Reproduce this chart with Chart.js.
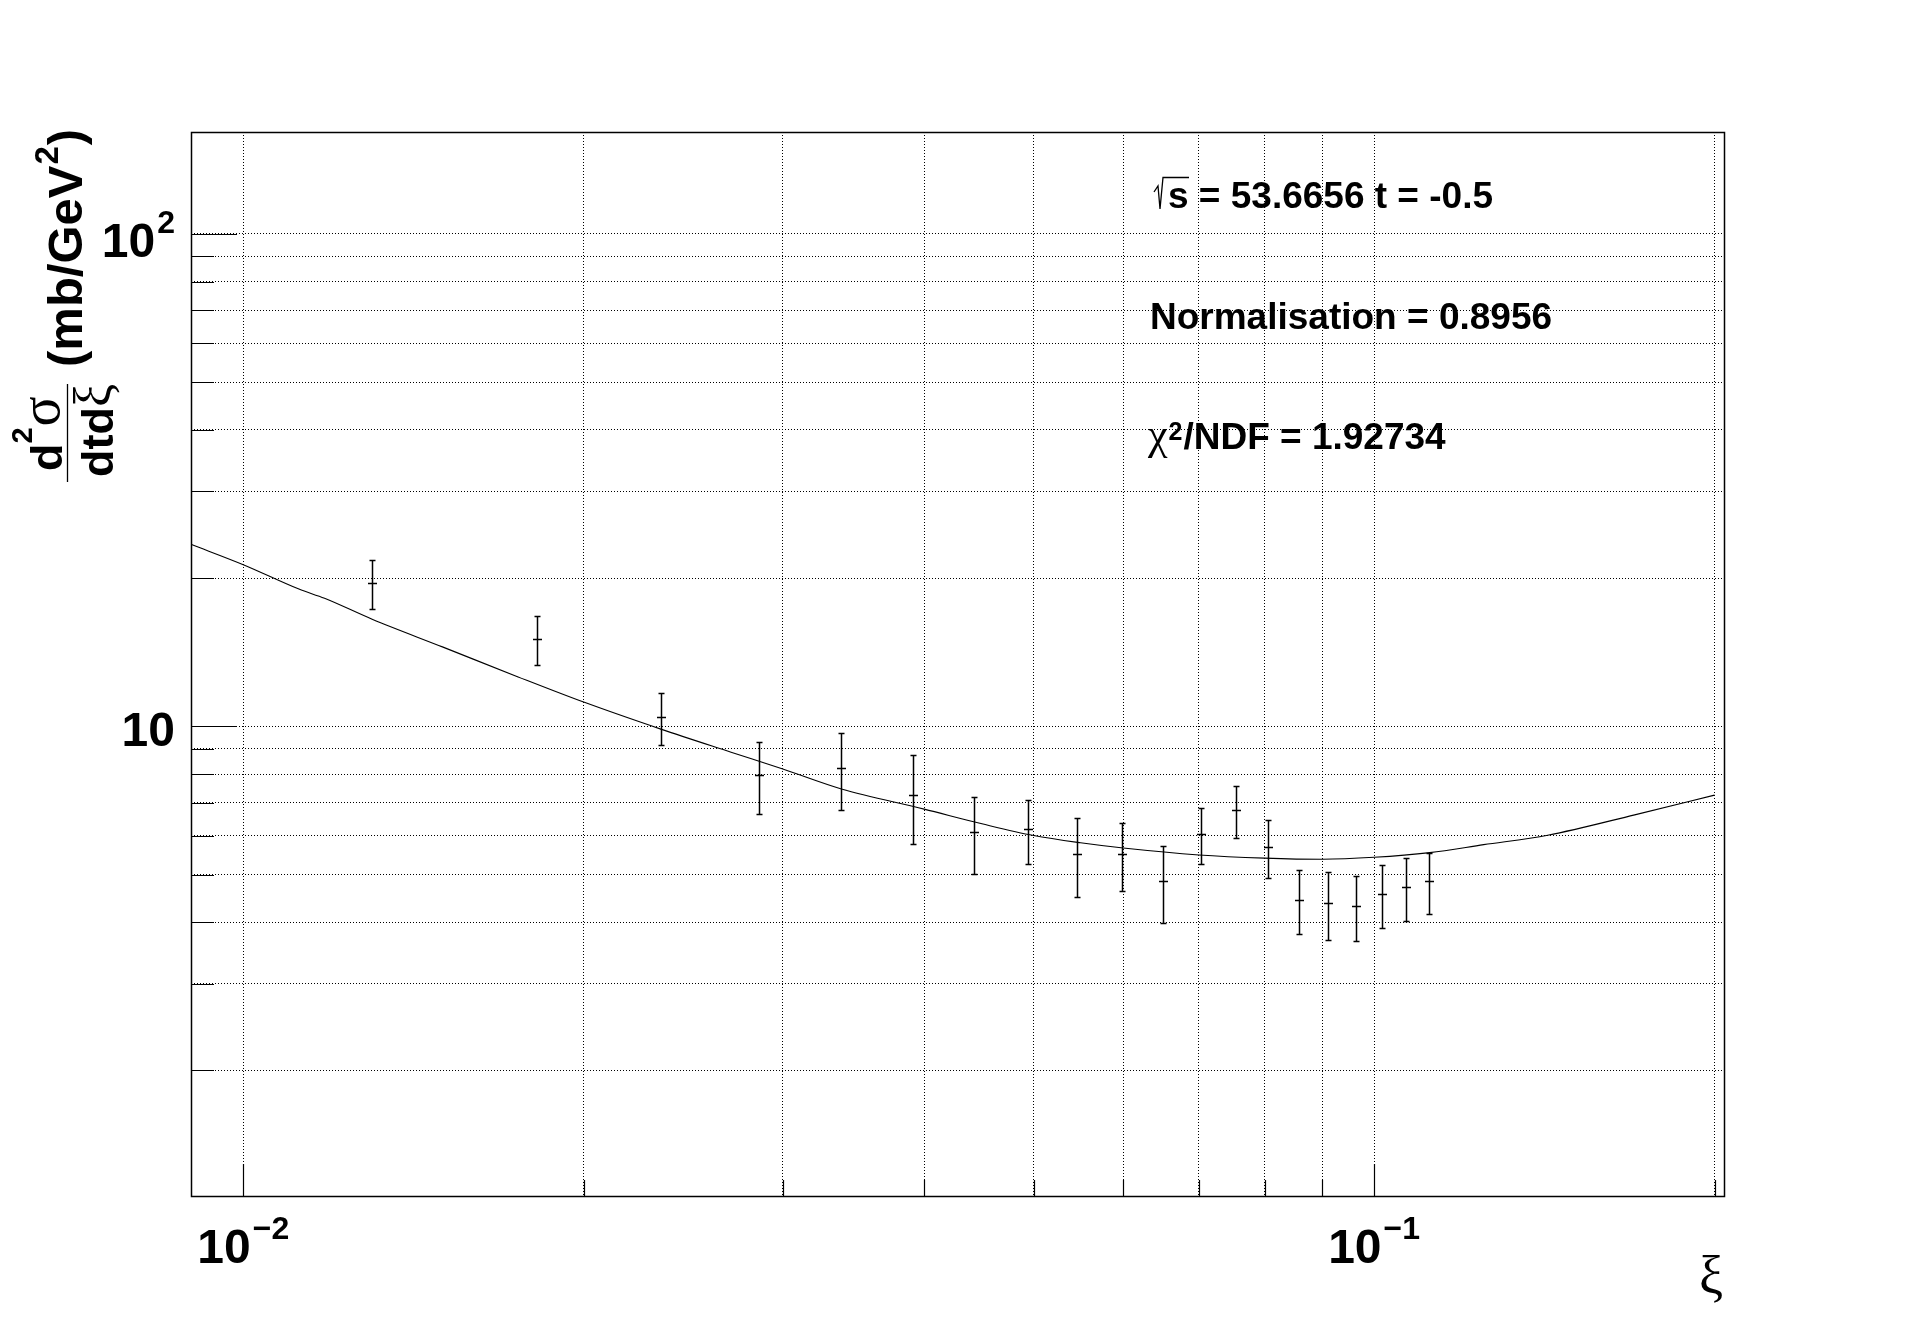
<!DOCTYPE html>
<html>
<head>
<meta charset="utf-8">
<script src="https://cdn.jsdelivr.net/npm/chart.js@4"></script>
<style>
  html, body { margin: 0; padding: 0; background: #fff; }
  #xsec { display: block; }
</style>
</head>
<body>
<canvas id="xsec" width="1916" height="1329"></canvas>
<script>
// measured points (xi, d2sigma/dtdxi, error)
const xiValues = [0.0130, 0.0182, 0.0234, 0.0286, 0.0338, 0.0391, 0.0443, 0.0494, 0.0546, 0.0599,
                  0.0651, 0.0703, 0.0755, 0.0806, 0.0858, 0.0911, 0.0964, 0.1016, 0.1068, 0.1119];
const sigmaValues = [19.54, 15.04, 10.44, 7.96, 8.23, 7.25, 6.10, 6.18, 5.50, 5.50,
                     4.85, 6.04, 6.76, 5.68, 4.44, 4.37, 4.31, 4.56, 4.71, 4.85];
const sigmaErrors = [2.19, 1.72, 1.26, 1.32, 1.46, 1.48, 1.09, 0.92, 1.00, 0.86,
                     0.87, 0.79, 0.82, 0.76, 0.66, 0.69, 0.65, 0.66, 0.69, 0.69];

// fitted curve
const curveXi = [0.009, 0.010, 0.0112, 0.0118, 0.013, 0.015, 0.0175, 0.020, 0.0234, 0.027, 0.030,
                 0.0338, 0.040, 0.045, 0.050, 0.055, 0.060, 0.070, 0.080, 0.090, 0.100, 0.112,
                 0.125, 0.1424, 0.170, 0.200];
const curveSigma = [23.4, 21.3, 19.0, 18.2, 16.5, 14.5, 12.6, 11.2, 9.87, 8.86, 8.19,
                    7.46, 6.79, 6.34, 6.00, 5.80, 5.66, 5.48, 5.40, 5.37, 5.42, 5.54,
                    5.75, 6.01, 6.61, 7.25];

// axes
const xGridValues = [0.01, 0.02, 0.03, 0.04, 0.05, 0.06, 0.07, 0.08, 0.09, 0.1, 0.2];
const yGridValues = [2, 3, 4, 5, 6, 7, 8, 9, 10, 20, 30, 40, 50, 60, 70, 80, 90, 100];
const xMajorTicks = [0.01, 0.1];
const xMajorExponents = ['\u22122', '\u22121'];
const yMajorTicks = [10, 100];
const yMajorExponents = ['', '2'];

const infoLines = ['s = 53.6656 t = -0.5', 'Normalisation = 0.8956', '/NDF = 1.92734'];

const SANS = '"Liberation Sans", Arial, sans-serif';
const SERIF = '"Liberation Serif", "Times New Roman", serif';

function drawPower(ctx, base, exp, x, baseline, align) {
  ctx.font = 'bold 48px ' + SANS;
  const wb = ctx.measureText(base).width;
  ctx.font = 'bold 32px ' + SANS;
  const we = exp ? ctx.measureText(exp).width + 2 : 0;
  let left = x;
  if (align === 'center') left = x - (wb + we) / 2;
  if (align === 'right') left = x - wb - we;
  ctx.textAlign = 'left';
  ctx.textBaseline = 'alphabetic';
  ctx.font = 'bold 48px ' + SANS;
  ctx.fillText(base, left, baseline);
  if (exp) {
    ctx.font = 'bold 32px ' + SANS;
    ctx.fillText(exp, left + wb + 2, baseline - 24);
  }
}

const rootStyle = {
  id: 'rootStyle',
  afterDatasetsDraw(chart) {
    const {ctx, scales: {y}} = chart;
    const meta = chart.getDatasetMeta(1);
    ctx.save();
    ctx.strokeStyle = '#000';
    ctx.lineWidth = 1.5;
    ctx.beginPath();
    meta.data.forEach((pt, i) => {
      const px = Math.round(pt.x) + 0.5;
      const yc = Math.round(pt.y) + 0.5;
      const yTop = Math.round(y.getPixelForValue(sigmaValues[i] + sigmaErrors[i])) + 0.5;
      const yBot = Math.round(y.getPixelForValue(sigmaValues[i] - sigmaErrors[i])) + 0.5;
      ctx.moveTo(px, yTop); ctx.lineTo(px, yBot);
      ctx.moveTo(px - 3, yTop); ctx.lineTo(px + 3, yTop);
      ctx.moveTo(px - 3, yBot); ctx.lineTo(px + 3, yBot);
      ctx.moveTo(px - 4.5, yc); ctx.lineTo(px + 4.5, yc);
    });
    ctx.stroke();
    ctx.restore();
  },
  afterDraw(chart) {
    const {ctx, chartArea: a, scales: {x, y}} = chart;
    ctx.save();
    ctx.fillStyle = '#000';
    ctx.strokeStyle = '#000';

    // frame
    ctx.lineWidth = 1.5;
    ctx.strokeRect(a.left + 0.5, a.top + 0.5, a.right - a.left, a.bottom - a.top);

    // inner tick marks
    ctx.lineWidth = 1.2;
    ctx.beginPath();
    xGridValues.forEach(v => {
      const px = Math.round(x.getPixelForValue(v)) + 0.5;
      const len = xMajorTicks.includes(v) ? 32 : 16;
      ctx.moveTo(px, a.bottom); ctx.lineTo(px, a.bottom - len);
    });
    yGridValues.forEach(v => {
      const py = Math.round(y.getPixelForValue(v)) + 0.5;
      const len = yMajorTicks.includes(v) ? 46 : 23;
      ctx.moveTo(a.left, py); ctx.lineTo(a.left + len, py);
    });
    ctx.stroke();

    // tick labels
    xMajorTicks.forEach((v, i) => {
      drawPower(ctx, '10', xMajorExponents[i], x.getPixelForValue(v), 1263, 'center');
    });
    yMajorTicks.forEach((v, i) => {
      const py = y.getPixelForValue(v);
      drawPower(ctx, '10', yMajorExponents[i], 175, py + (yMajorExponents[i] ? 23 : 20), 'right');
    });

    // x title
    ctx.font = '54px ' + SERIF;
    ctx.textAlign = 'right';
    ctx.textBaseline = 'alphabetic';
    ctx.fillText('\u03BE', 1723, 1294);

    // y title, rotated
    ctx.save();
    ctx.translate(67.5, 483);
    ctx.rotate(-Math.PI / 2);
    ctx.textAlign = 'left';
    ctx.textBaseline = 'alphabetic';
    ctx.lineWidth = 1.3;
    ctx.beginPath();
    ctx.moveTo(1, 0); ctx.lineTo(99, 0);
    ctx.stroke();
    // numerator d^2 sigma
    ctx.font = 'bold 45px ' + SANS;
    ctx.fillText('d', 12, -6);
    let u = 12 + ctx.measureText('d').width;
    ctx.font = 'bold 29px ' + SANS;
    ctx.fillText('2', u, -36);
    u += ctx.measureText('2').width + 1;
    ctx.font = '56px ' + SERIF;
    ctx.fillText('\u03C3', u, -9);
    // denominator dt d xi
    ctx.font = 'bold 45px ' + SANS;
    ctx.fillText('dtd', 6, 45);
    u = 6 + ctx.measureText('dtd').width;
    ctx.font = '52px ' + SERIF;
    ctx.fillText('\u03BE', u, 42);
    // units
    ctx.font = 'bold 49px ' + SANS;
    ctx.fillText('(mb/GeV', 116, 14);
    u = 116 + ctx.measureText('(mb/GeV').width + 1;
    ctx.font = 'bold 33px ' + SANS;
    ctx.fillText('2', u, -10);
    u += ctx.measureText('2').width + 1;
    ctx.font = 'bold 49px ' + SANS;
    ctx.fillText(')', u, 14);
    ctx.restore();

    // info text
    ctx.textAlign = 'left';
    ctx.textBaseline = 'alphabetic';
    ctx.lineWidth = 1.3;
    ctx.beginPath();
    ctx.moveTo(1154, 192); ctx.lineTo(1158, 186); ctx.lineTo(1160, 209);
    ctx.lineTo(1163, 177.5); ctx.lineTo(1189, 177.5);
    ctx.stroke();
    ctx.font = 'bold 37px ' + SANS;
    ctx.fillText(infoLines[0], 1168, 208);
    ctx.fillText(infoLines[1], 1150, 329);
    ctx.font = '44px ' + SERIF;
    ctx.fillText('\u03C7', 1148, 449);
    let cx = 1148 + ctx.measureText('\u03C7').width + 1;
    ctx.font = 'bold 25px ' + SANS;
    ctx.fillText('2', cx, 440);
    cx += ctx.measureText('2').width + 1;
    ctx.font = 'bold 37px ' + SANS;
    ctx.fillText(infoLines[2], cx, 449);

    ctx.restore();
  }
};

const curveData = curveXi.map((v, i) => ({x: v, y: curveSigma[i]}));
const pointData = xiValues.map((v, i) => ({x: v, y: sigmaValues[i]}));

const gridOpts = {color: '#000', lineWidth: 1, drawTicks: false};
const borderOpts = {display: false, dash: [1, 2]};

const xsecChart = new Chart(document.getElementById('xsec'), {
  type: 'scatter',
  data: {
    datasets: [{
      type: 'line',
      label: 'fit',
      data: curveData,
      borderColor: '#000',
      borderWidth: 1.1,
      pointRadius: 0,
      fill: false,
      cubicInterpolationMode: 'monotone'
    }, {
      label: 'data',
      data: pointData,
      pointRadius: 0,
      pointHoverRadius: 0
    }]
  },
  options: {
    responsive: false,
    animation: false,
    devicePixelRatio: 1,
    layout: {padding: {left: 0, top: 132, right: 192, bottom: 0}},
    plugins: {legend: {display: false}, tooltip: {enabled: false}},
    scales: {
      x: {
        type: 'logarithmic',
        min: 0.00899,
        max: 0.2039,
        bounds: 'data',
        ticks: {display: false},
        grid: gridOpts,
        border: borderOpts,
        afterBuildTicks: s => { s.ticks = xGridValues.map(v => ({value: v})); },
        afterFit: s => { s.height = 133; }
      },
      y: {
        type: 'logarithmic',
        min: 1.112,
        max: 161.1,
        bounds: 'data',
        ticks: {display: false},
        grid: gridOpts,
        border: borderOpts,
        afterBuildTicks: s => { s.ticks = yGridValues.map(v => ({value: v})); },
        afterFit: s => { s.width = 191; }
      }
    }
  },
  plugins: [rootStyle]
});
</script>
</body>
</html>
